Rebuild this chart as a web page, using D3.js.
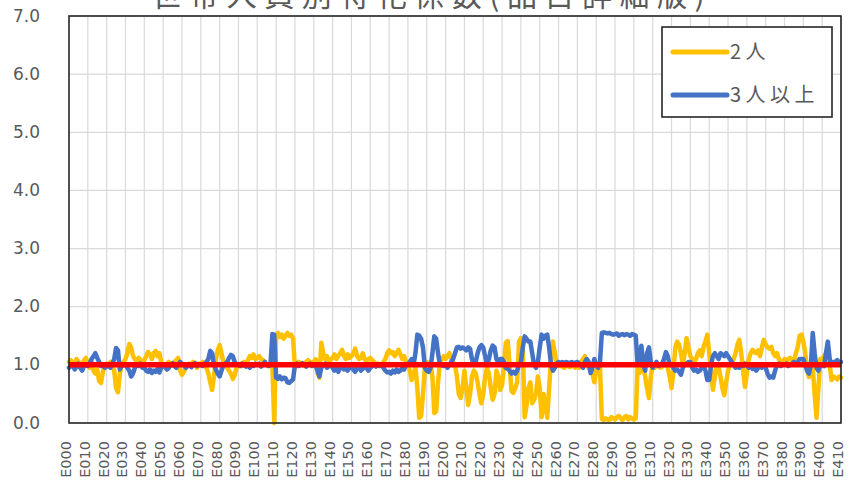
<!DOCTYPE html>
<html>
<head>
<meta charset="utf-8">
<script src="https://cdn.jsdelivr.net/npm/d3@7/dist/d3.min.js"></script>
<style>
  html, body { margin: 0; padding: 0; background: #fff; }
  svg { display: block; }
</style>
</head>
<body>
<svg id="chart" width="851" height="489"></svg>
<script>
// Item codes E000 … E410 on the category axis
const categories = d3.range(411).map(i => "E" + String(i).padStart(3, "0"));
const tickLabels = categories.filter((c, i) => i % 10 === 0);
const yTicks = [0, 1, 2, 3, 4, 5, 6, 7];
const seriesNames = ["2人", "3人以上"];
const referenceLevel = 1.0;

// Specialisation coefficient, 2-person households (one row per 10 items)
const twoPerson = [
  1.05,1.08,0.98,1.02,1.1,1.06,0.95,1.0,1.08,1.12,
  1.02,0.95,1.05,0.9,0.85,0.92,0.72,0.69,0.88,1.0,
  1.02,0.98,1.05,1.0,0.9,0.6,0.53,0.85,1.0,1.05,
  1.1,1.2,1.36,1.3,1.15,1.1,1.05,1.12,1.08,1.0,
  1.08,1.15,1.22,1.18,1.1,1.2,1.24,1.15,1.2,1.05,
  1.0,0.95,1.02,1.05,0.98,1.0,1.05,1.08,1.12,0.9,
  0.83,0.88,0.95,1.0,1.02,0.98,1.05,1.0,0.95,1.02,
  1.0,1.05,1.0,0.95,0.85,0.7,0.57,0.8,1.1,1.25,
  1.34,1.2,1.05,1.0,0.95,0.9,0.85,0.76,0.82,0.95,
  1.0,1.02,0.98,1.05,1.0,1.08,1.15,1.12,1.18,1.1,
  1.12,1.15,1.1,1.08,1.05,1.0,0.98,1.0,1.0,0.0,
  1.5,1.55,1.48,1.52,1.45,1.5,1.55,1.5,1.52,1.45,
  0.95,1.0,1.05,1.02,1.0,0.98,1.05,1.08,1.0,1.05,
  1.05,1.1,0.85,0.78,1.38,1.2,1.1,1.15,1.05,1.1,
  1.12,1.18,1.1,1.15,1.2,1.26,1.15,1.1,1.18,1.12,
  1.15,1.2,1.28,1.15,1.1,1.12,1.2,1.1,1.05,1.1,
  1.12,1.08,1.05,1.0,1.02,0.98,1.0,1.05,1.1,1.2,
  1.25,1.2,1.22,1.15,1.2,1.26,1.18,1.1,1.15,1.05,
  1.0,0.9,0.74,0.85,0.95,0.6,0.09,0.12,0.5,0.95,
  1.05,1.0,1.02,0.8,0.17,0.2,0.7,1.05,1.1,1.15,
  1.1,1.15,1.2,1.1,1.05,1.0,0.8,0.5,0.43,0.6,
  0.9,0.6,0.31,0.5,0.8,0.9,0.85,0.7,0.5,0.34,
  0.5,0.8,0.95,0.85,0.6,0.4,0.5,0.9,0.8,0.57,
  0.65,1.0,1.38,1.41,1.0,0.55,0.52,0.6,0.7,1.4,
  1.46,1.3,0.1,0.3,0.6,0.7,0.34,0.4,0.5,0.8,
  0.6,0.1,0.5,0.3,0.09,0.6,1.1,1.4,1.2,1.0,
  0.98,1.0,0.97,0.95,1.0,0.98,0.96,1.0,0.97,0.95,
  1.0,0.95,1.05,1.1,1.15,1.0,0.95,0.9,0.85,0.7,
  0.9,1.0,0.95,0.07,0.05,0.08,0.06,0.05,0.1,0.08,
  0.06,0.1,0.12,0.08,0.05,0.1,0.12,0.06,0.1,0.08,
  0.06,0.08,1.0,0.86,1.0,0.95,0.8,0.6,0.43,0.8,
  1.0,0.95,0.98,1.0,0.95,0.97,1.0,1.02,0.95,0.8,
  0.6,0.9,1.3,1.4,1.35,1.2,1.0,1.2,1.46,1.3,
  1.15,1.1,1.05,1.1,1.2,1.25,1.15,1.31,1.4,1.52,
  1.2,0.9,0.57,0.8,1.0,0.95,0.8,0.6,0.48,0.7,
  0.9,1.0,1.05,1.1,1.2,1.35,1.43,1.2,0.9,0.62,
  0.85,1.1,1.2,1.26,1.22,1.2,1.25,1.15,1.3,1.43,
  1.35,1.3,1.28,1.31,1.2,1.15,1.2,1.1,1.05,1.0,
  1.1,1.05,1.1,1.12,1.08,1.05,1.2,1.3,1.5,1.52,
  1.4,1.2,0.9,0.79,0.85,0.95,0.5,0.09,0.6,1.1,
  1.1,1.15,1.2,1.25,1.0,0.74,0.8,0.78,0.75,0.8,
  0.78
];

// Specialisation coefficient, households of 3 or more
const threePlus = [
  0.95,0.98,1.0,0.92,0.97,1.02,0.95,0.9,0.98,1.0,
  0.98,1.02,1.1,1.15,1.2,1.12,1.05,0.98,1.0,0.95,
  0.97,1.0,0.95,1.02,1.1,1.29,1.25,0.92,0.98,1.0,
  1.0,0.95,0.9,0.8,0.85,0.95,1.0,0.98,1.02,0.95,
  0.95,0.9,0.88,0.92,0.86,0.9,0.88,0.93,0.87,0.95,
  1.0,0.97,0.92,0.95,1.0,1.03,0.98,0.95,1.0,1.05,
  1.02,1.0,0.95,0.98,1.0,0.96,1.0,1.03,0.98,1.0,
  1.0,0.98,1.02,1.05,1.1,1.24,1.2,1.0,0.92,0.85,
  0.8,0.9,1.0,1.02,1.05,1.12,1.17,1.15,1.05,1.0,
  1.0,0.98,1.02,1.0,0.97,1.0,0.95,1.0,0.98,1.02,
  1.0,1.02,0.97,1.0,1.05,1.0,0.98,1.0,1.53,1.52,
  0.78,0.76,0.8,0.75,0.78,0.77,0.7,0.69,0.72,0.75,
  1.0,1.02,0.98,1.0,1.03,1.0,0.97,1.0,1.02,0.98,
  1.0,0.98,0.9,0.8,0.95,1.0,1.02,0.95,0.98,1.0,
  0.95,0.9,0.97,0.88,0.95,1.0,0.92,0.95,0.9,0.97,
  0.95,0.92,0.88,0.95,0.97,0.9,0.93,0.98,0.95,0.9,
  0.95,0.98,1.0,0.97,1.0,0.98,1.0,0.95,0.9,0.87,
  0.88,0.85,0.9,0.87,0.92,0.88,0.9,0.95,0.92,1.0,
  1.0,1.05,1.1,1.0,1.2,1.52,1.5,1.45,1.3,0.95,
  0.9,0.88,0.95,1.2,1.49,1.45,1.2,1.0,1.0,0.98,
  1.0,0.95,1.0,1.05,1.1,1.2,1.3,1.31,1.28,1.3,
  1.28,1.25,1.3,1.28,1.1,1.0,1.05,1.2,1.3,1.34,
  1.3,1.15,1.0,1.1,1.25,1.33,1.3,1.1,1.05,1.1,
  1.1,1.05,0.95,0.93,0.9,0.85,0.88,0.85,0.9,1.0,
  1.05,1.3,1.49,1.45,1.4,1.4,1.2,1.0,0.95,1.05,
  1.3,1.52,1.45,1.5,1.52,1.3,1.0,0.9,0.95,1.02,
  1.05,1.03,1.05,1.02,1.05,1.04,1.03,1.05,1.02,1.04,
  1.05,1.02,1.0,0.95,1.05,1.1,1.05,0.86,0.95,1.1,
  1.0,0.95,1.05,1.55,1.56,1.55,1.54,1.55,1.53,1.52,
  1.53,1.54,1.5,1.52,1.53,1.51,1.53,1.52,1.5,1.53,
  1.52,1.5,1.0,1.1,1.33,1.0,0.9,1.2,1.3,1.05,
  0.95,1.0,1.05,0.98,1.0,1.02,1.1,1.22,1.15,1.0,
  1.0,0.95,0.9,0.92,0.88,0.83,0.95,1.0,1.02,1.05,
  1.05,0.95,0.9,0.92,0.88,0.9,0.95,1.0,0.9,0.74,
  0.74,1.0,1.15,1.2,1.15,1.1,1.2,1.18,1.15,1.2,
  1.15,1.1,1.05,1.0,0.95,0.97,0.95,1.0,0.98,1.02,
  1.0,0.95,0.97,0.93,0.95,0.9,0.95,0.97,0.95,1.0,
  0.95,0.85,0.78,0.8,0.78,0.9,1.0,1.02,0.98,1.0,
  1.0,1.02,0.98,1.0,1.02,1.05,1.0,1.05,1.1,1.1,
  1.1,1.0,0.9,0.85,1.0,1.55,1.2,0.95,0.9,1.0,
  1.0,0.98,1.2,1.4,1.1,1.0,1.05,1.05,1.08,1.05,
  1.05
];

const colors = { two: "#ffc000", three: "#4472c4", ref: "#ff0000" };
const textColor = "#595959";

const svg = d3.select("#chart");
const plot = { left: 69, right: 841, top: 16, bottom: 423 };

const x = d3.scalePoint().domain(categories).range([plot.left, plot.right]);
const y = d3.scaleLinear().domain([0, 7]).range([plot.bottom, plot.top]);

// Title (sits partly above the top edge of the canvas)
svg.append("text")
  .attr("x", 432).attr("y", 6)
  .attr("text-anchor", "middle")
  .attr("font-family", "'Noto Sans CJK JP', sans-serif")
  .attr("font-size", 30)
  .attr("letter-spacing", 7.5)
  .attr("fill", textColor)
  .text("世帯人員別特化係数(品目詳細版)");

// Gridlines
const grid = svg.append("g");
grid.selectAll("line.h").data(yTicks).join("line")
  .attr("x1", plot.left).attr("x2", plot.right)
  .attr("y1", d => y(d)).attr("y2", d => y(d))
  .attr("stroke", "#d9d9d9").attr("stroke-width", 1.2);
grid.selectAll("line.v").data(tickLabels.slice(1)).join("line")
  .attr("x1", d => x(d)).attr("x2", d => x(d))
  .attr("y1", plot.top).attr("y2", plot.bottom)
  .attr("stroke", "#d9d9d9").attr("stroke-width", 1.2);

// Y axis labels
const yAxis = d3.axisLeft(y).tickValues(yTicks).tickFormat(d3.format(".1f")).tickSize(0).tickPadding(29);
svg.append("g").attr("transform", `translate(${plot.left},0)`).call(yAxis)
  .call(g => g.select(".domain").remove())
  .call(g => g.selectAll("text")
    .attr("font-family", "'DejaVu Sans', sans-serif")
    .attr("font-size", 17)
    .attr("fill", textColor)
    .attr("dy", "0.3em"));

// X axis labels, rotated
const xAxis = d3.axisBottom(x).tickValues(tickLabels).tickSize(0).tickPadding(0);
svg.append("g").attr("transform", `translate(0,${plot.bottom})`).call(xAxis)
  .call(g => g.select(".domain").remove())
  .call(g => g.selectAll(".tick text")
    .attr("font-family", "'DejaVu Sans', sans-serif")
    .attr("font-size", 14.5)
    .attr("fill", textColor)
    .attr("text-anchor", "end")
    .attr("dominant-baseline", "central")
    .attr("y", 0).attr("dy", null)
    .attr("transform", "translate(-3.5,18) rotate(-90)"));

// Series lines
const line = d3.line().x((d, i) => x(categories[i])).y(d => y(d)).curve(d3.curveLinear);
svg.append("path").datum(twoPerson)
  .attr("d", line).attr("fill", "none")
  .attr("stroke", colors.two).attr("stroke-width", 4.5)
  .attr("stroke-linejoin", "round").attr("stroke-linecap", "round");
svg.append("path").datum(threePlus)
  .attr("d", line).attr("fill", "none")
  .attr("stroke", colors.three).attr("stroke-width", 4.5)
  .attr("stroke-linejoin", "round").attr("stroke-linecap", "round");

// Reference level (1.0)
svg.append("line")
  .attr("x1", x(categories[0])).attr("x2", x(categories[categories.length - 1]))
  .attr("y1", y(referenceLevel)).attr("y2", y(referenceLevel))
  .attr("stroke", colors.ref).attr("stroke-width", 5.5);

// Plot frame
svg.append("rect")
  .attr("x", plot.left).attr("y", plot.top)
  .attr("width", plot.right - plot.left).attr("height", plot.bottom - plot.top)
  .attr("fill", "none").attr("stroke", "#262626").attr("stroke-width", 1.6);

// Legend
const legend = svg.append("g");
legend.append("rect")
  .attr("x", 662).attr("y", 27).attr("width", 170).attr("height", 90)
  .attr("fill", "#fff").attr("stroke", "#262626").attr("stroke-width", 1.6);
const legendItems = [
  { name: seriesNames[0], color: colors.two, y: 52 },
  { name: seriesNames[1], color: colors.three, y: 95 }
];
legendItems.forEach(it => {
  legend.append("line")
    .attr("x1", 673).attr("x2", 727).attr("y1", it.y).attr("y2", it.y)
    .attr("stroke", it.color).attr("stroke-width", 5).attr("stroke-linecap", "round");
  legend.append("text")
    .attr("x", 730).attr("y", it.y).attr("dy", "0.36em")
    .attr("font-family", "'Noto Sans CJK JP', sans-serif")
    .attr("font-size", 20).attr("letter-spacing", 4.5)
    .attr("fill", textColor)
    .text(it.name);
});
</script>
</body>
</html>
